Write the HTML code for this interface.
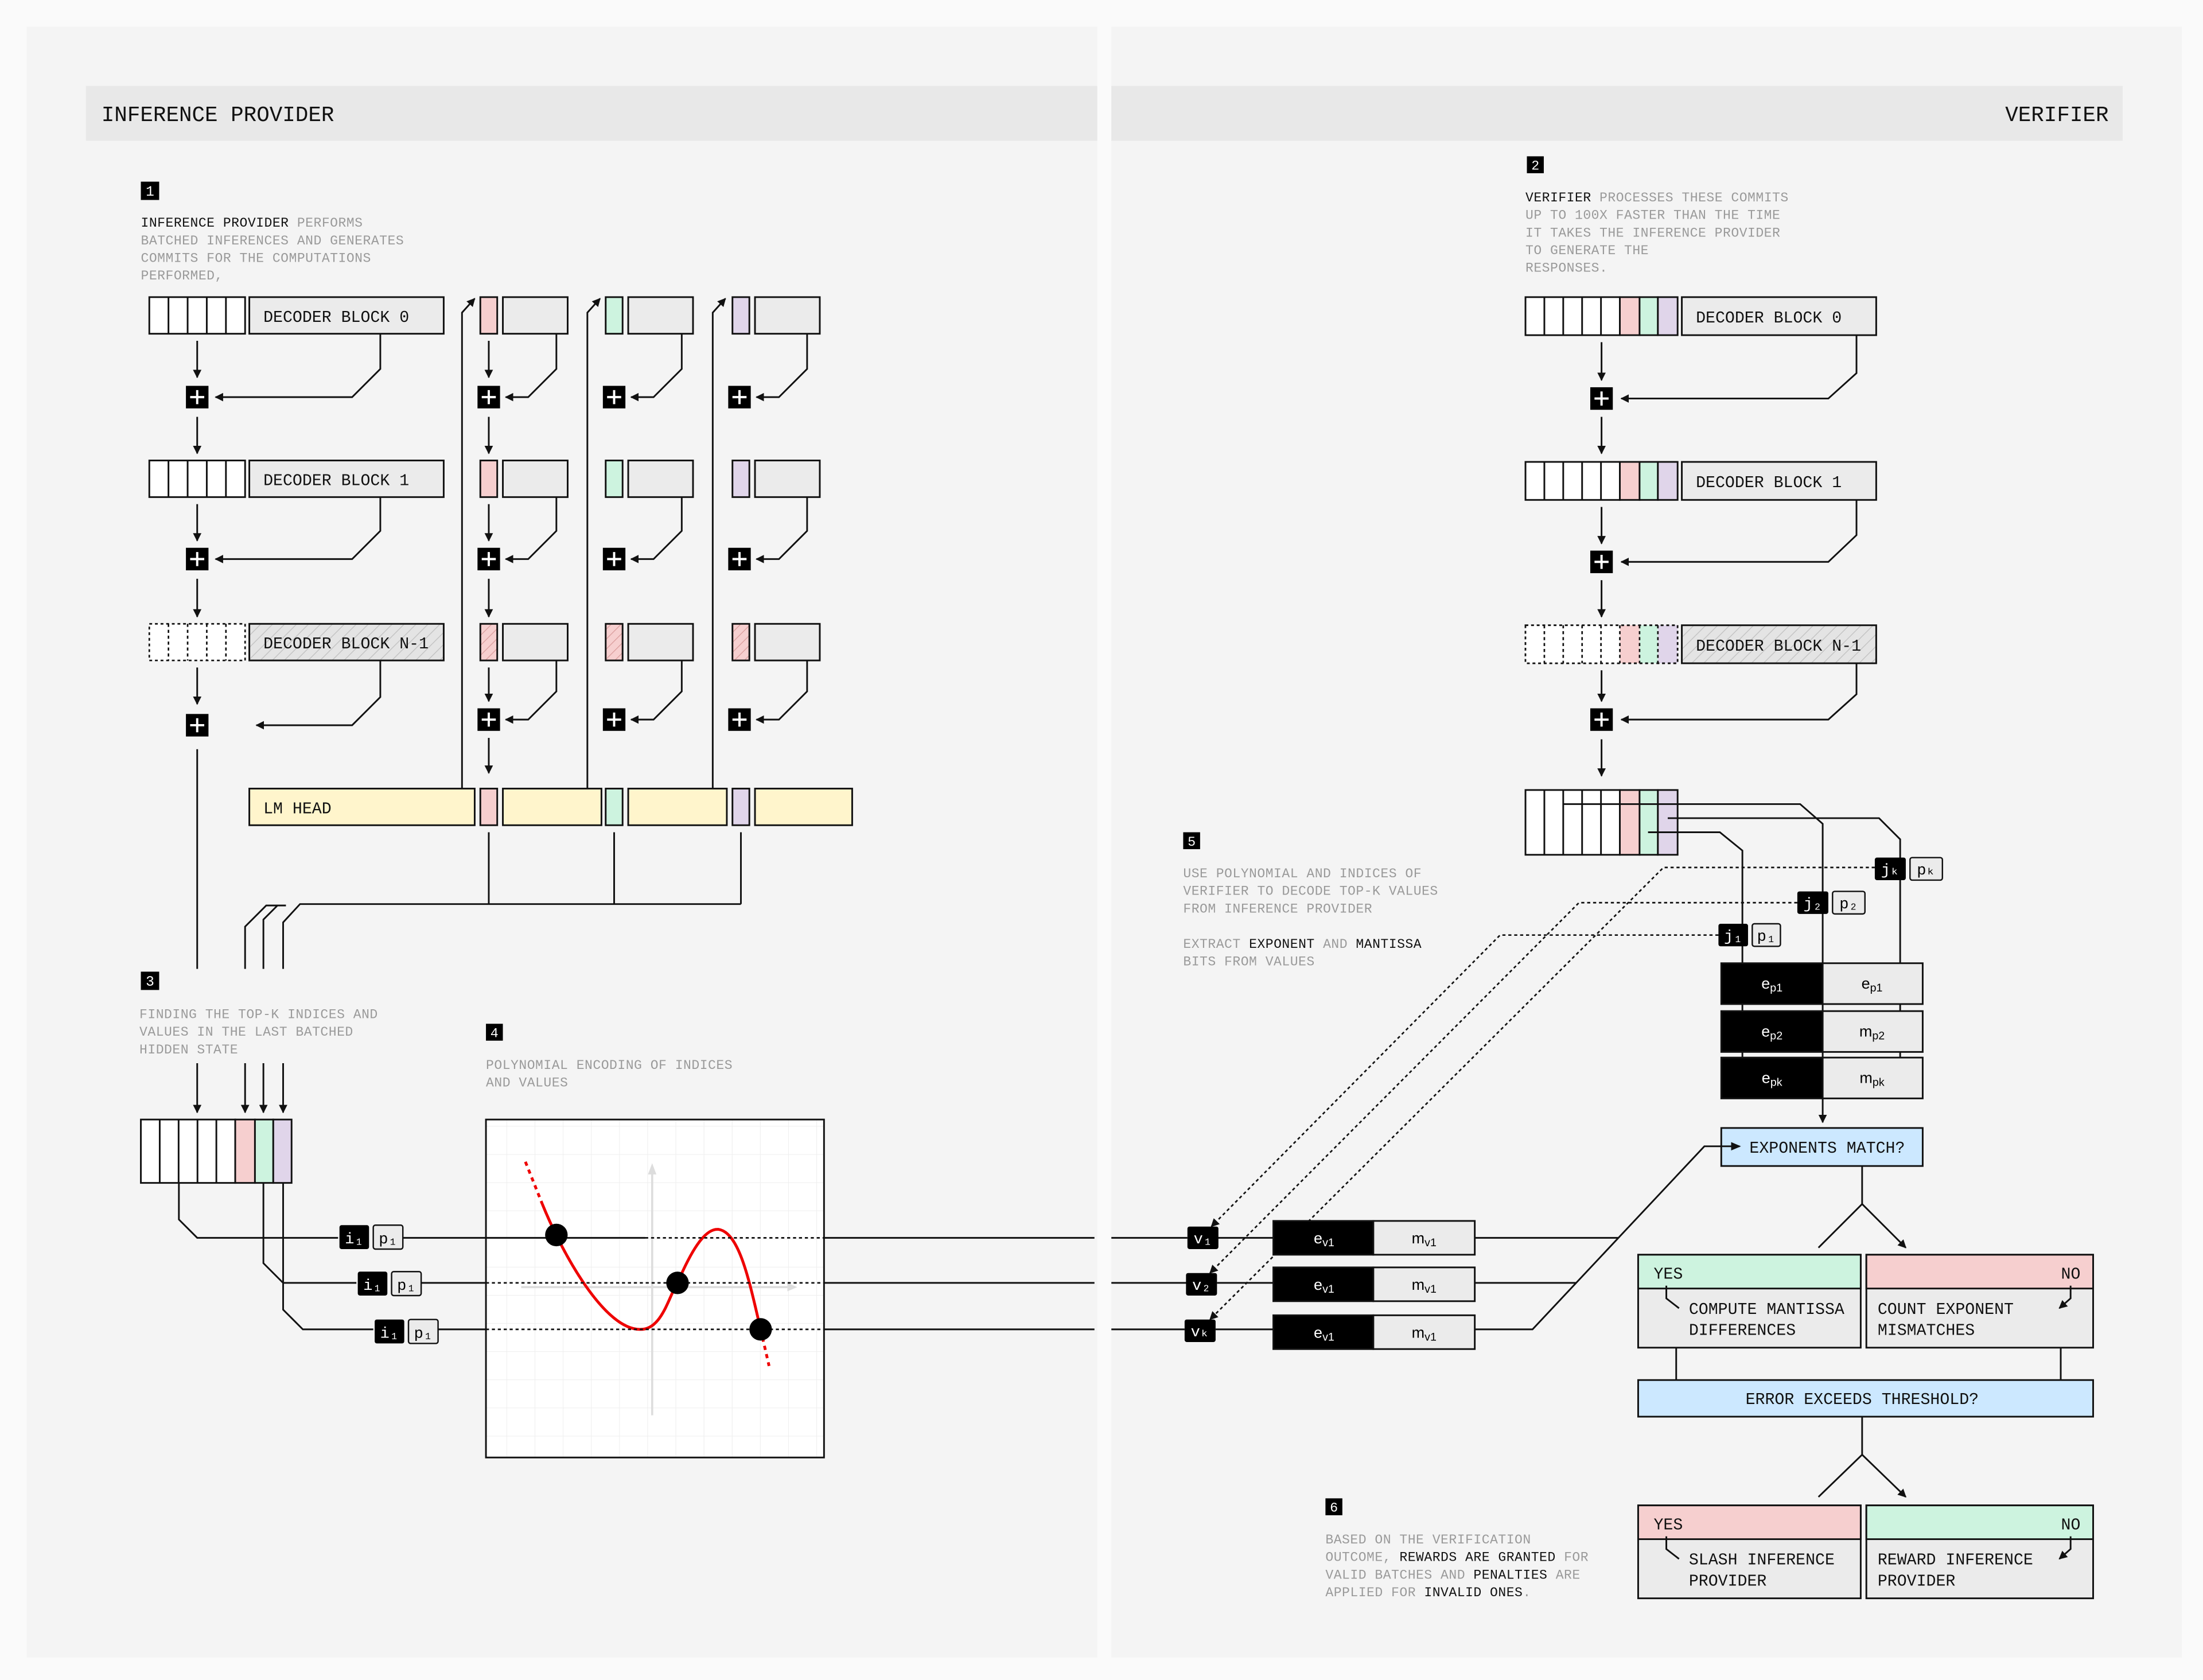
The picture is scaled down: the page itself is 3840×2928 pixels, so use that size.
<!DOCTYPE html>
<html><head><meta charset="utf-8"><style>
html,body{margin:0;padding:0;background:#fafafa;}
svg{display:block}
text{font-family:"Liberation Mono","DejaVu Sans Mono",monospace;}
.d{font-size:9.4px;fill:#9a9a9a;letter-spacing:0.2px}
.k{fill:#111}
.l{font-size:11.5px;fill:#111}
.h{font-size:15.3px;fill:#111}
.w{fill:#fff}
.ln{stroke:#111;stroke-width:1.2;fill:none}
.dt{stroke:#111;stroke-width:1.1;fill:none;stroke-dasharray:2.2 2}
.bx{stroke:#111;stroke-width:1.2}
</style></head><body>
<svg width="3840" height="2928" viewBox="0 0 1564 1193" preserveAspectRatio="none" xmlns="http://www.w3.org/2000/svg">
<defs>
<marker id="a" viewBox="0 0 10 10" refX="9" refY="5" markerWidth="6" markerHeight="6" markerUnits="userSpaceOnUse" orient="auto"><path d="M0,0 L10,5 L0,10 z" fill="#111"/></marker>
<pattern id="hg" width="6" height="6" patternUnits="userSpaceOnUse" patternTransform="rotate(45)"><rect width="6" height="6" fill="#e4e4e4"/><line x1="0" y1="0" x2="0" y2="6" stroke="#c4c4c4" stroke-width="1.2"/></pattern>
<pattern id="hp" width="5" height="5" patternUnits="userSpaceOnUse" patternTransform="rotate(45)"><rect width="5" height="5" fill="#f6cfcf"/><line x1="0" y1="0" x2="0" y2="5" stroke="#d99a9a" stroke-width="1"/></pattern>
<pattern id="grid" width="20" height="20" patternUnits="userSpaceOnUse"><rect width="20" height="20" fill="#fff"/><path d="M20,0 V20 M0,20 H20" stroke="#eeeeee" stroke-width="0.8" fill="none"/></pattern>
<g id="plus"><rect x="-8" y="-8" width="16" height="16" fill="#000"/><path d="M-5,0 H5 M0,-5 V5" stroke="#fff" stroke-width="1.6"/></g>
</defs>

<!-- panels -->
<rect x="0" y="0" width="1564" height="1193" fill="#fafafa"/>
<rect x="19" y="19" width="760" height="1158" fill="#f4f4f4"/>
<rect x="789" y="19" width="760" height="1158" fill="#f4f4f4"/>
<rect x="61" y="61" width="718" height="39" fill="#e8e8e8"/>
<rect x="789" y="61" width="718" height="39" fill="#e8e8e8"/>
<text x="72" y="86" class="h">INFERENCE PROVIDER</text>
<text x="1497" y="86" class="h" text-anchor="end">VERIFIER</text>

<!-- ===== LEFT ===== -->
<rect x="100" y="129" width="13" height="13" fill="#000"/><text x="106.5" y="139" font-size="10" class="w" text-anchor="middle">1</text>
<text class="d"><tspan x="100" y="161"><tspan class="k">INFERENCE PROVIDER</tspan> PERFORMS</tspan><tspan x="100" y="173.5">BATCHED INFERENCES AND GENERATES</tspan><tspan x="100" y="186">COMMITS FOR THE COMPUTATIONS</tspan><tspan x="100" y="198.5">PERFORMED,</tspan></text>

<!-- token cells -->
<g class="bx" fill="#fff">
<rect x="106" y="211" width="68" height="26"/><rect x="106" y="327" width="68" height="26"/>
</g>
<path d="M119.6,211 V237 M133.2,211 V237 M146.8,211 V237 M160.4,211 V237 M119.6,327 V353 M133.2,327 V353 M146.8,327 V353 M160.4,327 V353" class="ln"/>
<rect x="106" y="443" width="68" height="26" fill="#fff" stroke="#111" stroke-width="1.1" stroke-dasharray="2 2"/>
<path d="M119.6,443 V469 M133.2,443 V469 M146.8,443 V469 M160.4,443 V469" class="dt"/>

<!-- decoder blocks -->
<rect x="177" y="211" width="138" height="26" fill="#ebebeb" class="bx"/><text x="187" y="228.5" class="l">DECODER BLOCK 0</text>
<rect x="177" y="327" width="138" height="26" fill="#ebebeb" class="bx"/><text x="187" y="344.5" class="l">DECODER BLOCK 1</text>
<rect x="177" y="443" width="138" height="26" fill="url(#hg)" class="bx"/><text x="187" y="460.5" class="l">DECODER BLOCK N-1</text>

<!-- column cells -->
<g class="bx">
<rect x="341" y="211" width="12" height="26" fill="#f6cfcf"/><rect x="357" y="211" width="46" height="26" fill="#ebebeb"/>
<rect x="430" y="211" width="12" height="26" fill="#cdf3df"/><rect x="446" y="211" width="46" height="26" fill="#ebebeb"/>
<rect x="520" y="211" width="12" height="26" fill="#e0d5ea"/><rect x="536" y="211" width="46" height="26" fill="#ebebeb"/>
<rect x="341" y="327" width="12" height="26" fill="#f6cfcf"/><rect x="357" y="327" width="46" height="26" fill="#ebebeb"/>
<rect x="430" y="327" width="12" height="26" fill="#cdf3df"/><rect x="446" y="327" width="46" height="26" fill="#ebebeb"/>
<rect x="520" y="327" width="12" height="26" fill="#e0d5ea"/><rect x="536" y="327" width="46" height="26" fill="#ebebeb"/>
<rect x="341" y="443" width="12" height="26" fill="url(#hp)"/><rect x="357" y="443" width="46" height="26" fill="#ebebeb"/>
<rect x="430" y="443" width="12" height="26" fill="url(#hp)"/><rect x="446" y="443" width="46" height="26" fill="#ebebeb"/>
<rect x="520" y="443" width="12" height="26" fill="url(#hp)"/><rect x="536" y="443" width="46" height="26" fill="#ebebeb"/>
</g>

<!-- left plus and arrows -->
<use href="#plus" x="140" y="282"/><use href="#plus" x="140" y="397"/><use href="#plus" x="140" y="515"/>
<g class="ln" marker-end="url(#a)">
<path d="M140,242 V268"/><path d="M140,296 V322"/><path d="M140,358 V384"/><path d="M140,411 V438"/><path d="M140,474 V500"/>
<path d="M270,237 V262 L250,282 H153"/><path d="M270,353 V377 L250,397 H153"/><path d="M270,469 V495 L250,515 H182"/>
</g>
<path d="M140,532 V688" class="ln"/>

<!-- columns plus -->
<g>
<use href="#plus" x="347" y="282"/><use href="#plus" x="436" y="282"/><use href="#plus" x="525" y="282"/>
<use href="#plus" x="347" y="397"/><use href="#plus" x="436" y="397"/><use href="#plus" x="525" y="397"/>
<use href="#plus" x="347" y="511"/><use href="#plus" x="436" y="511"/><use href="#plus" x="525" y="511"/>
</g>
<g class="ln" marker-end="url(#a)">
<path d="M395,237 V262 L375,282 H359"/><path d="M484,237 V262 L464,282 H448"/><path d="M573,237 V262 L553,282 H537"/>
<path d="M395,353 V377 L375,397 H359"/><path d="M484,353 V377 L464,397 H448"/><path d="M573,353 V377 L553,397 H537"/>
<path d="M395,469 V491 L375,511 H359"/><path d="M484,469 V491 L464,511 H448"/><path d="M573,469 V491 L553,511 H537"/>
<path d="M347,242 V268"/><path d="M347,296 V322"/><path d="M347,358 V384"/><path d="M347,411 V438"/><path d="M347,474 V498"/><path d="M347,524 V549"/>
<path d="M328,560 V222 L337,212"/><path d="M417,560 V222 L426,212"/><path d="M506,560 V222 L515,212"/>
</g>

<!-- LM head -->
<g class="bx">
<rect x="177" y="560" width="160" height="26" fill="#fff5cc"/>
<rect x="341" y="560" width="12" height="26" fill="#f6cfcf"/>
<rect x="357" y="560" width="70" height="26" fill="#fff5cc"/>
<rect x="430" y="560" width="12" height="26" fill="#cdf3df"/>
<rect x="446" y="560" width="70" height="26" fill="#fff5cc"/>
<rect x="520" y="560" width="12" height="26" fill="#e0d5ea"/>
<rect x="536" y="560" width="69" height="26" fill="#fff5cc"/>
</g>
<text x="187" y="577.5" class="l">LM HEAD</text>

<path d="M347,591 V642 M436,591 V642 M526,591 V642 M526,642 H213 L201,655 V688 M203,643 H189 L187,645 L174,658 V688 M197,643 L187,653 V688" class="ln"/>

<!-- step 3 -->
<rect x="100" y="690" width="13" height="13" fill="#000"/><text x="106.5" y="700" font-size="10" class="w" text-anchor="middle">3</text>
<text class="d"><tspan x="99" y="723">FINDING THE TOP-K INDICES AND</tspan><tspan x="99" y="735.5">VALUES IN THE LAST BATCHED</tspan><tspan x="99" y="748">HIDDEN STATE</tspan></text>
<g class="ln" marker-end="url(#a)"><path d="M140,755 V790"/><path d="M174,755 V790"/><path d="M187,755 V790"/><path d="M201,755 V790"/></g>
<g class="bx">
<rect x="100" y="795" width="67" height="45" fill="#fff"/>
<rect x="167" y="795" width="14" height="45" fill="#f6cfcf"/>
<rect x="181" y="795" width="13" height="45" fill="#cdf3df"/>
<rect x="194" y="795" width="13" height="45" fill="#e0d5ea"/>
</g>
<path d="M113.4,795 V840 M126.8,795 V840 M140.2,795 V840 M153.6,795 V840" class="ln"/>

<path d="M127,840 V866 L140,879 H240 M187,840 V897 L201,911 H253 M201,840 V930 L215,944 H265" class="ln"/>

<!-- step 4 -->
<rect x="345" y="727" width="12" height="12" fill="#000"/><text x="351" y="736.5" font-size="9.5" class="w" text-anchor="middle">4</text>
<text class="d"><tspan x="345" y="759">POLYNOMIAL ENCODING OF INDICES</tspan><tspan x="345" y="771.5">AND VALUES</tspan></text>

<!-- chart -->
<rect x="345" y="795" width="240" height="240" fill="url(#grid)" stroke="#111" stroke-width="1.2"/>
<path d="M463,830 V1005 M370,914 H560" stroke="#dddddd" stroke-width="1.5" fill="none"/>
<path d="M460,834 L463,826 L466,834 z M559,911 L566,914 L559,917 z" fill="#dddddd"/>
<path d="M373,825 L385,855" stroke="#e00" stroke-width="2" stroke-dasharray="3 3" fill="none"/>
<path d="M385,855 C400,892 430,945 455,944 C470,944 475,920 481,911 C490,890 500,872 510,873 C525,875 532,910 540,944" stroke="#e00" stroke-width="2" fill="none"/>
<path d="M540,944 L546,970" stroke="#e00" stroke-width="2" stroke-dasharray="3 3" fill="none"/>

<path d="M286,879 H458" class="ln"/><path d="M458,879 H585" class="dt"/>
<path d="M299,911 H345" class="ln"/><path d="M345,911 H585" class="dt"/>
<path d="M311,944 H345" class="ln"/><path d="M345,944 H585" class="dt"/>
<path d="M585,879 H777 M585,911 H777 M585,944 H777" class="ln"/>
<circle cx="395" cy="877" r="8" fill="#000"/><circle cx="481" cy="911" r="8" fill="#000"/><circle cx="540" cy="944" r="8" fill="#000"/>

<!-- i/p badges -->
<g font-size="11">
<rect x="241" y="870" width="21" height="17" rx="1.5" fill="#000"/><text x="251.5" y="883" class="w" text-anchor="middle">i₁</text>
<rect x="265" y="870" width="21" height="17" rx="1.5" fill="#ebebeb" stroke="#111" stroke-width="1"/><text x="275.5" y="883" text-anchor="middle">p₁</text>
<rect x="254" y="903" width="21" height="17" rx="1.5" fill="#000"/><text x="264.5" y="916" class="w" text-anchor="middle">i₁</text>
<rect x="278" y="903" width="21" height="17" rx="1.5" fill="#ebebeb" stroke="#111" stroke-width="1"/><text x="288.5" y="916" text-anchor="middle">p₁</text>
<rect x="266" y="937" width="21" height="17" rx="1.5" fill="#000"/><text x="276.5" y="950" class="w" text-anchor="middle">i₁</text>
<rect x="290" y="937" width="21" height="17" rx="1.5" fill="#ebebeb" stroke="#111" stroke-width="1"/><text x="300.5" y="950" text-anchor="middle">p₁</text>
</g>

<!-- ===== RIGHT ===== -->
<rect x="1084" y="111" width="12" height="12" fill="#000"/><text x="1090" y="120.5" font-size="9.5" class="w" text-anchor="middle">2</text>
<text class="d"><tspan x="1083" y="143"><tspan class="k">VERIFIER</tspan> PROCESSES THESE COMMITS</tspan><tspan x="1083" y="155.5">UP TO 100X FASTER THAN THE TIME</tspan><tspan x="1083" y="168">IT TAKES THE INFERENCE PROVIDER</tspan><tspan x="1083" y="180.5">TO GENERATE THE</tspan><tspan x="1083" y="193">RESPONSES.</tspan></text>

<!-- verifier rows -->
<g class="bx">
<rect x="1083" y="211" width="67" height="27" fill="#fff"/><rect x="1150" y="211" width="14" height="27" fill="#f6cfcf"/><rect x="1164" y="211" width="13" height="27" fill="#cdf3df"/><rect x="1177" y="211" width="14" height="27" fill="#e0d5ea"/>
<rect x="1083" y="328" width="67" height="27" fill="#fff"/><rect x="1150" y="328" width="14" height="27" fill="#f6cfcf"/><rect x="1164" y="328" width="13" height="27" fill="#cdf3df"/><rect x="1177" y="328" width="14" height="27" fill="#e0d5ea"/>
<rect x="1194" y="211" width="138" height="27" fill="#ebebeb"/><rect x="1194" y="328" width="138" height="27" fill="#ebebeb"/>
<rect x="1194" y="444" width="138" height="27" fill="url(#hg)"/>
</g>
<path d="M1096.4,211 V238 M1109.8,211 V238 M1123.2,211 V238 M1136.6,211 V238 M1096.4,328 V355 M1109.8,328 V355 M1123.2,328 V355 M1136.6,328 V355" class="ln"/>
<rect x="1150" y="444" width="14" height="27" fill="#f6cfcf"/><rect x="1164" y="444" width="13" height="27" fill="#cdf3df"/><rect x="1177" y="444" width="14" height="27" fill="#e0d5ea"/>
<rect x="1083" y="444" width="108" height="27" fill="none" stroke="#111" stroke-width="1.1" stroke-dasharray="2 2"/>
<path d="M1083,444 H1150 V471 H1083" fill="#fff" stroke="none"/>
<rect x="1083" y="444" width="108" height="27" fill="none" stroke="#111" stroke-width="1.1" stroke-dasharray="2 2"/>
<path d="M1096.4,444 V471 M1109.8,444 V471 M1123.2,444 V471 M1136.6,444 V471 M1150,444 V471 M1164,444 V471 M1177,444 V471" class="dt"/>
<text x="1204" y="229" class="l">DECODER BLOCK 0</text>
<text x="1204" y="346" class="l">DECODER BLOCK 1</text>
<text x="1204" y="462" class="l">DECODER BLOCK N-1</text>

<use href="#plus" x="1137" y="283"/><use href="#plus" x="1137" y="399"/><use href="#plus" x="1137" y="511"/>
<g class="ln" marker-end="url(#a)">
<path d="M1137,243 V270"/><path d="M1137,296 V322"/><path d="M1137,360 V386"/><path d="M1137,412 V438"/><path d="M1137,476 V498"/><path d="M1137,525 V551"/>
<path d="M1318,238 V265 L1298,283 H1151"/><path d="M1318,355 V380 L1298,399 H1151"/><path d="M1318,471 V493 L1298,511 H1151"/>
</g>

<!-- final cells -->
<g class="bx">
<rect x="1083" y="561" width="67" height="46" fill="#fff"/><rect x="1150" y="561" width="14" height="46" fill="#f6cfcf"/><rect x="1164" y="561" width="13" height="46" fill="#cdf3df"/><rect x="1177" y="561" width="14" height="46" fill="#e0d5ea"/>
</g>
<path d="M1096.4,561 V607 M1109.8,561 V607 M1123.2,561 V607 M1136.6,561 V607" class="ln"/>
<path d="M1110,571 H1278 L1294,585 V780 M1184,581 H1334 L1349,596 V780 M1170,591 H1221 L1237,604 V780" class="ln"/>

<!-- dotted connectors -->
<g class="dt" marker-end="url(#a)">
<path d="M1220,664 H1065 L860,871"/>
<path d="M1276,641 H1121 L859,904"/>
<path d="M1331,616 H1181 L859,937"/>
</g>

<!-- j/p badges -->
<g font-size="11">
<rect x="1331" y="609" width="22" height="16" rx="1.5" fill="#000"/><text x="1342" y="621" class="w" text-anchor="middle">jₖ</text>
<rect x="1356" y="609" width="23" height="16" rx="1.5" fill="#ebebeb" stroke="#111" stroke-width="1"/><text x="1367.5" y="621" text-anchor="middle">pₖ</text>
<rect x="1276" y="633" width="22" height="16" rx="1.5" fill="#000"/><text x="1287" y="645" class="w" text-anchor="middle">j₂</text>
<rect x="1301" y="633" width="23" height="16" rx="1.5" fill="#ebebeb" stroke="#111" stroke-width="1"/><text x="1312.5" y="645" text-anchor="middle">p₂</text>
<rect x="1220" y="656" width="21" height="16" rx="1.5" fill="#000"/><text x="1230.5" y="668" class="w" text-anchor="middle">j₁</text>
<rect x="1244" y="656" width="20" height="16" rx="1.5" fill="#ebebeb" stroke="#111" stroke-width="1"/><text x="1254" y="668" text-anchor="middle">p₁</text>
</g>

<!-- ep boxes -->
<g class="bx">
<rect x="1222" y="684" width="72" height="29" fill="#000"/><rect x="1294" y="684" width="71" height="29" fill="#ebebeb"/>
<rect x="1222" y="718" width="72" height="29" fill="#000"/><rect x="1294" y="718" width="71" height="29" fill="#ebebeb"/>
<rect x="1222" y="751" width="72" height="29" fill="#000"/><rect x="1294" y="751" width="71" height="29" fill="#ebebeb"/>
</g>
<g font-size="11" font-family="Liberation Sans, sans-serif">
<text x="1258" y="702" class="w" text-anchor="middle" style="font-family:'Liberation Sans',sans-serif">e<tspan font-size="8" dy="2">p1</tspan></text>
<text x="1329" y="702" text-anchor="middle" style="font-family:'Liberation Sans',sans-serif">e<tspan font-size="8" dy="2">p1</tspan></text>
<text x="1258" y="736" class="w" text-anchor="middle" style="font-family:'Liberation Sans',sans-serif">e<tspan font-size="8" dy="2">p2</tspan></text>
<text x="1329" y="736" text-anchor="middle" style="font-family:'Liberation Sans',sans-serif">m<tspan font-size="8" dy="2">p2</tspan></text>
<text x="1258" y="769" class="w" text-anchor="middle" style="font-family:'Liberation Sans',sans-serif">e<tspan font-size="8" dy="2">pk</tspan></text>
<text x="1329" y="769" text-anchor="middle" style="font-family:'Liberation Sans',sans-serif">m<tspan font-size="8" dy="2">pk</tspan></text>
</g>
<path d="M1294,780 V797" class="ln" marker-end="url(#a)"/>

<!-- exponents match -->
<rect x="1222" y="801" width="143" height="27" fill="#cce8ff" class="bx"/>
<text x="1242" y="818.5" class="l">EXPONENTS MATCH?</text>
<path d="M1047,879 H1149 M1047,911 H1119 M1047,944 H1088 L1210,814 H1235" class="ln"/>
<path d="M1229,811 L1236,814 L1229,817 z" fill="#111"/>
<path d="M1322,828 V855" class="ln"/>
<path d="M1322,855 L1291,886 M1322,855 L1353,886" class="ln" marker-end="url(#a)"/>

<!-- step 5 -->
<rect x="840" y="591" width="12" height="12" fill="#000"/><text x="846" y="600.5" font-size="9.5" class="w" text-anchor="middle">5</text>
<text class="d"><tspan x="840" y="623">USE POLYNOMIAL AND INDICES OF</tspan><tspan x="840" y="635.5">VERIFIER TO DECODE TOP-K VALUES</tspan><tspan x="840" y="648">FROM INFERENCE PROVIDER</tspan><tspan x="840" y="673">EXTRACT <tspan class="k">EXPONENT</tspan> AND <tspan class="k">MANTISSA</tspan></tspan><tspan x="840" y="685.5">BITS FROM VALUES</tspan></text>

<!-- v badges & e/m -->
<path d="M789,879 H843 M864,879 H904 M789,911 H843 M864,911 H904 M789,944 H841 M863,944 H904" class="ln"/>
<g font-size="11">
<rect x="843" y="871" width="22" height="16" rx="1.5" fill="#000"/><text x="854" y="883" class="w" text-anchor="middle">v₁</text>
<rect x="842" y="904" width="22" height="16" rx="1.5" fill="#000"/><text x="853" y="916" class="w" text-anchor="middle">v₂</text>
<rect x="841" y="937" width="22" height="16" rx="1.5" fill="#000"/><text x="852" y="949" class="w" text-anchor="middle">vₖ</text>
</g>
<g class="bx">
<rect x="904" y="867" width="71" height="24" fill="#000"/><rect x="975" y="867" width="72" height="24" fill="#ebebeb"/>
<rect x="904" y="900" width="71" height="24" fill="#000"/><rect x="975" y="900" width="72" height="24" fill="#ebebeb"/>
<rect x="904" y="934" width="71" height="24" fill="#000"/><rect x="975" y="934" width="72" height="24" fill="#ebebeb"/>
</g>
<g font-size="11">
<text x="940" y="883" class="w" text-anchor="middle" style="font-family:'Liberation Sans',sans-serif">e<tspan font-size="8" dy="2">v1</tspan></text>
<text x="1011" y="883" text-anchor="middle" style="font-family:'Liberation Sans',sans-serif">m<tspan font-size="8" dy="2">v1</tspan></text>
<text x="940" y="916" class="w" text-anchor="middle" style="font-family:'Liberation Sans',sans-serif">e<tspan font-size="8" dy="2">v1</tspan></text>
<text x="1011" y="916" text-anchor="middle" style="font-family:'Liberation Sans',sans-serif">m<tspan font-size="8" dy="2">v1</tspan></text>
<text x="940" y="950" class="w" text-anchor="middle" style="font-family:'Liberation Sans',sans-serif">e<tspan font-size="8" dy="2">v1</tspan></text>
<text x="1011" y="950" text-anchor="middle" style="font-family:'Liberation Sans',sans-serif">m<tspan font-size="8" dy="2">v1</tspan></text>
</g>

<!-- yes/no boxes -->
<g class="bx">
<rect x="1163" y="891" width="158" height="66" fill="#ebebeb"/><rect x="1163" y="891" width="158" height="24" fill="#cdf3df"/>
<rect x="1325" y="891" width="161" height="66" fill="#ebebeb"/><rect x="1325" y="891" width="161" height="24" fill="#f6cfcf"/>
</g>
<text x="1174" y="908" class="l">YES</text><text x="1477" y="908" class="l" text-anchor="end">NO</text>
<text class="l"><tspan x="1199" y="933">COMPUTE MANTISSA</tspan><tspan x="1199" y="948">DIFFERENCES</tspan></text>
<text class="l"><tspan x="1333" y="933">COUNT EXPONENT</tspan><tspan x="1333" y="948">MISMATCHES</tspan></text>
<path d="M1183,913 V922 L1192,929 M1470,913 V922 L1462,929" class="ln" marker-end="url(#a)"/>
<path d="M1190,957 V982 M1463,957 V982" class="ln"/>
<rect x="1163" y="980" width="323" height="26" fill="#cce8ff" class="bx"/>
<text x="1322" y="997" class="l" text-anchor="middle">ERROR EXCEEDS THRESHOLD?</text>
<path d="M1322,1006 V1033" class="ln"/>
<path d="M1322,1033 L1291,1063 M1322,1033 L1353,1063" class="ln" marker-end="url(#a)"/>

<g class="bx">
<rect x="1163" y="1069" width="158" height="66" fill="#ebebeb"/><rect x="1163" y="1069" width="158" height="24" fill="#f6cfcf"/>
<rect x="1325" y="1069" width="161" height="66" fill="#ebebeb"/><rect x="1325" y="1069" width="161" height="24" fill="#cdf3df"/>
</g>
<text x="1174" y="1086" class="l">YES</text><text x="1477" y="1086" class="l" text-anchor="end">NO</text>
<text class="l"><tspan x="1199" y="1111">SLASH INFERENCE</tspan><tspan x="1199" y="1126">PROVIDER</tspan></text>
<text class="l"><tspan x="1333" y="1111">REWARD INFERENCE</tspan><tspan x="1333" y="1126">PROVIDER</tspan></text>
<path d="M1183,1091 V1100 L1192,1107 M1470,1091 V1100 L1462,1107" class="ln" marker-end="url(#a)"/>

<!-- step 6 -->
<rect x="941" y="1064" width="12" height="12" fill="#000"/><text x="947" y="1073.5" font-size="9.5" class="w" text-anchor="middle">6</text>
<text class="d"><tspan x="941" y="1096">BASED ON THE VERIFICATION</tspan><tspan x="941" y="1108.5">OUTCOME, <tspan class="k">REWARDS ARE GRANTED</tspan> FOR</tspan><tspan x="941" y="1121">VALID BATCHES AND <tspan class="k">PENALTIES</tspan> ARE</tspan><tspan x="941" y="1133.5">APPLIED FOR <tspan class="k">INVALID ONES</tspan>.</tspan></text>
</svg>
</body></html>
